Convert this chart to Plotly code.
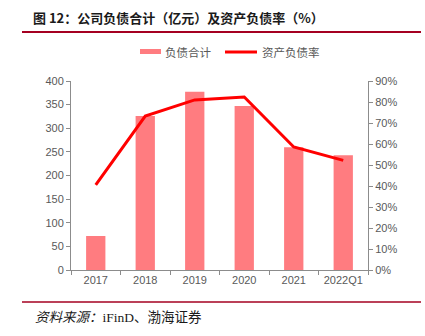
import plotly.graph_objects as go

categories = ["2017", "2018", "2019", "2020", "2021", "2022Q1"]
liabilities = [72, 326, 377, 347, 260, 243]
debt_ratio = [40.5, 73.3, 81.0, 82.4, 58.6, 52.2]

W, H = 425, 336
L, R, T, B = 71, 57, 81, 66
pw, ph = W - L - R, H - T - B

def px_x(x):
    return (x - L) / pw

def px_y(y):
    return (H - B - y) / ph

grey = "#595959"
bar_color = "#FF7C80"
line_color = "#FF0000"
fig = go.Figure()
fig.add_trace(go.Bar(x=categories, y=liabilities, name="负债合计", showlegend=False,
                     marker=dict(color=bar_color, line=dict(width=0)), width=0.39))
fig.add_trace(go.Scatter(x=categories, y=debt_ratio, name="资产负债率", yaxis="y2", showlegend=False,
                         mode="lines", line=dict(color=line_color, width=3)))

axis_common = dict(showgrid=False, zeroline=False, showline=True, linecolor="#8C8C8C",
                   linewidth=1, ticks="outside", ticklen=4, tickcolor="#8C8C8C",
                   tickfont=dict(family="Liberation Sans, Arial", size=11, color=grey))

fig.update_layout(
    width=W, height=H, margin=dict(l=L, r=R, t=T, b=B),
    paper_bgcolor="white", plot_bgcolor="white",
    font=dict(family="Noto Sans CJK SC", color=grey),
    xaxis=dict(**axis_common, type="category", tickson="boundaries"),
    yaxis=dict(**axis_common, range=[0, 400], dtick=50),
    yaxis2=dict(**axis_common, range=[0, 90], dtick=10, ticksuffix="%",
                overlaying="y", side="right"),
    showlegend=False,
)

# legend drawn manually
fig.add_shape(type="rect", xref="paper", yref="paper", x0=px_x(140), x1=px_x(161),
              y0=px_y(54), y1=px_y(49), fillcolor=bar_color, line=dict(width=0))
fig.add_annotation(text="负债合计", xref="paper", yref="paper", x=px_x(163), y=px_y(51.5),
                   xanchor="left", yanchor="middle", showarrow=False,
                   font=dict(family="Noto Sans CJK SC", size=11.5, color=grey))
fig.add_shape(type="line", xref="paper", yref="paper", x0=px_x(225), x1=px_x(257),
              y0=px_y(52), y1=px_y(52), line=dict(color=line_color, width=3))
fig.add_annotation(text="资产负债率", xref="paper", yref="paper", x=px_x(260), y=px_y(51.5),
                   xanchor="left", yanchor="middle", showarrow=False,
                   font=dict(family="Noto Sans CJK SC", size=11.5, color=grey))

fig.add_shape(type="line", xref="paper", yref="paper", x0=px_x(22), x1=px_x(421),
              y0=px_y(32), y1=px_y(32), line=dict(color="#A50021", width=2))
fig.add_shape(type="line", xref="paper", yref="paper", x0=px_x(22), x1=px_x(421),
              y0=px_y(302), y1=px_y(302), line=dict(color="#A50021", width=1.5))

fig.add_annotation(text="<b>图 12：公司负债合计（亿元）及资产负债率（%）</b>", xref="paper", yref="paper",
                   x=px_x(31), y=px_y(17), xanchor="left", yanchor="middle", showarrow=False,
                   font=dict(family="Noto Sans CJK SC", size=13, color="#1a1a1a"))
fig.add_annotation(text="<i>资料来源：</i>iFinD、渤海证券", xref="paper", yref="paper",
                   x=px_x(33), y=px_y(317), xanchor="left", yanchor="middle", showarrow=False,
                   font=dict(family="Liberation Serif, Noto Sans CJK SC", size=13.5, color="#1a1a1a"))

fig.write_html("out.html")
